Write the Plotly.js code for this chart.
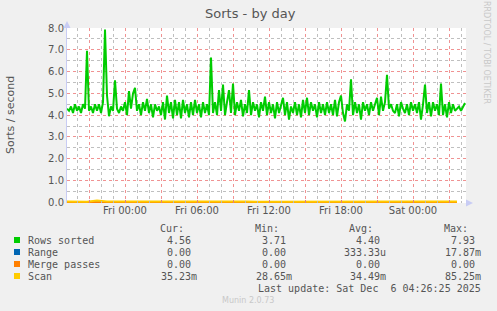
<!DOCTYPE html>
<html>
<head>
<meta charset="utf-8">
<script src="https://cdn.plot.ly/plotly-3.0.1.min.js"></script>
<style>html,body{margin:0;padding:0;background:#f0f0f0;}#chart{width:497px;height:311px;}</style>
</head>
<body>
<div id="chart"></div>
<script>
// ---- data ----
const startTime = Date.UTC(2025, 11, 4, 19, 10); // Thu 19:10
const stepMs = 10 * 60 * 1000;
const rowsSorted = [
4.3,4.2,4.4,4.1,4.5,4.2,4.4,4.1,4.5,4.3,
6.95,4.2,4.4,4.1,4.5,4.2,4.5,4.1,4.6,7.93,
4.9,3.95,4.4,4.2,5.6,4.3,4.1,4.4,4.2,4.6,
4.0,5.1,4.3,5.0,5.25,4.2,4.5,4.0,4.6,4.2,
4.75,4.1,4.5,3.9,4.5,4.2,4.4,4.0,4.6,3.8,
4.9,4.1,4.6,3.85,4.7,4.0,4.6,3.85,4.7,4.1,
4.5,3.9,4.6,4.0,4.7,4.1,4.5,3.9,4.6,4.1,
4.5,4.0,6.65,4.1,4.6,4.0,5.15,4.2,5.4,4.0,
4.6,5.15,4.1,5.45,4.0,4.6,4.2,4.7,3.95,4.5,
4.1,5.15,4.0,4.6,4.2,4.5,3.9,4.6,4.2,4.85,
4.0,4.6,4.1,4.5,3.85,4.6,4.1,4.5,4.8,4.0,
4.6,3.8,4.4,4.1,4.6,4.0,4.5,3.9,4.7,4.1,
4.8,4.0,4.6,4.2,4.5,3.9,4.6,4.1,4.5,4.0,
4.6,4.1,4.5,4.0,4.7,3.95,4.6,4.9,4.1,3.71,
4.5,4.2,5.65,4.0,4.6,4.1,4.5,3.8,4.6,4.2,
4.5,4.0,4.6,4.2,4.5,4.8,4.0,4.85,4.2,4.6,
5.85,4.3,4.5,4.2,4.1,4.5,3.95,4.6,4.3,4.1,
4.5,4.0,4.6,4.2,4.5,4.1,4.6,3.8,4.5,5.4,
4.1,4.6,3.95,4.6,4.2,4.5,4.0,5.45,4.0,4.5,
3.9,4.6,4.1,4.5,4.2,4.3,4.4,4.2,4.4,4.56
];
const coarseStepMs = 50 * 60 * 1000;
const scan = [
0.034,0.035,0.033,0.085,0.036,0.034,0.035,0.033,0.034,0.036,
0.035,0.034,0.060,0.035,0.033,0.034,0.036,0.035,0.034,0.033,
0.035,0.034,0.036,0.034,0.035,0.033,0.034,0.035,0.036,0.034,
0.033,0.035,0.034,0.036,0.035,0.034,0.033,0.035,0.034,0.035
];
const rangeVals = [
0,0,0,0,0,0,0,0,0,0,0,0,0,0,0.0179,0,0,0,0,0,
0,0,0,0,0,0,0,0,0,0,0,0,0,0,0,0,0,0,0,0
];
const mergePasses = [
0,0,0,0,0,0,0,0,0,0,0,0,0,0,0,0,0,0,0,0,
0,0,0,0,0,0,0,0,0,0,0,0,0,0,0,0,0,0,0,0
];
const seriesNames = ["Rows sorted", "Range", "Merge passes", "Scan"];
const seriesColors = ["#00cc00", "#0066b3", "#ff8000", "#ffcc00"];
const curVals = ["  4.56 ", "  0.00 ", "  0.00 ", " 35.23m"];
const minVals = ["  3.71 ", "  0.00 ", "  0.00 ", " 28.65m"];
const avgVals = ["  4.40 ", "333.33u", "  0.00 ", " 34.49m"];
const maxVals = ["  7.93 ", " 17.87m", "  0.00 ", " 85.25m"];
const xTickFormat = "%a %H:%M";
const yTickFormat = ".1f";

// ---- helpers ----
function fmt(ms){ return new Date(ms).toISOString().replace('T',' ').slice(0,19); }
function times(n, step){ const a=[]; for(let i=0;i<n;i++) a.push(fmt(startTime+i*step)); return a; }
const L=67, R=466, T=28, B=203;
const px = x => (x-L)/(R-L);
const py = y => (B-y)/(B-T);

const traces = [
 {x: times(rowsSorted.length, stepMs), y: rowsSorted, name: seriesNames[0], type:'scatter', mode:'lines', line:{color:seriesColors[0], width:2}},
 {x: times(rangeVals.length, coarseStepMs), y: rangeVals, name: seriesNames[1], type:'scatter', mode:'lines', line:{color:seriesColors[1], width:2}},
 {x: times(mergePasses.length, coarseStepMs), y: mergePasses, name: seriesNames[2], type:'scatter', mode:'lines', line:{color:seriesColors[2], width:2}},
 {x: times(scan.length, coarseStepMs), y: scan, name: seriesNames[3], type:'scatter', mode:'lines', line:{color:seriesColors[3], width:2}}
];

const mono = {family:'DejaVu Sans Mono', size:10, color:'#555'};
const ann = [];
const shapes = [];
function txt(x,y,t,anchor,font){ ann.push({xref:'paper',yref:'paper',x:px(x),y:py(y),text:t,showarrow:false,xanchor:anchor,yanchor:'middle',font:font||mono}); }
const sp = s => s.replace(/ /g,'&nbsp;');
// legend header
txt(186,228,'Cur:','right'); txt(281,228,'Min:','right'); txt(375,228,'Avg:','right'); txt(470,228,'Max:','right');
const rowY=[240,252,264,276];
for(let i=0;i<4;i++){
  shapes.push({type:'rect',xref:'paper',yref:'paper',x0:px(14),x1:px(20),y0:py(rowY[i]+3),y1:py(rowY[i]-3),fillcolor:seriesColors[i],line:{width:0}});
  txt(26,rowY[i],sp(seriesNames[i]),'left');
  txt(199,rowY[i],sp(curVals[i]),'right');
  txt(294,rowY[i],sp(minVals[i]),'right');
  txt(388,rowY[i],sp(avgVals[i]),'right');
  txt(483,rowY[i],sp(maxVals[i]),'right');
}
txt(483,288,sp('Last update: Sat Dec  6 04:26:25 2025'),'right');
txt(248,300,'Munin 2.0.73','center',{family:'DejaVu Sans',size:8,color:'#c8c8c8'});
ann.push({xref:'paper',yref:'paper',x:px(487),y:py(52),text:'RRDTOOL / TOBI OETIKER',textangle:90,showarrow:false,xanchor:'center',yanchor:'middle',font:{family:'DejaVu Sans',size:8,color:'#c8c8c8'}});
ann.push({xref:'paper',yref:'paper',x:px(10),y:py(115),text:'Sorts / second',textangle:-90,showarrow:false,xanchor:'center',yanchor:'middle',font:{family:'DejaVu Sans',size:11,color:'#555'}});
ann.push({xref:'paper',yref:'paper',x:px(250),y:py(13),text:'Sorts - by day',showarrow:false,xanchor:'center',yanchor:'middle',font:{family:'DejaVu Sans',size:13,color:'#555'}});
// axis arrows
shapes.push({type:'path',xref:'paper',yref:'paper',path:`M ${px(63.5)} ${py(28)} L ${px(70.5)} ${py(28)} L ${px(67)} ${py(21)} Z`,fillcolor:'#c8ccf4',line:{width:0}});
shapes.push({type:'path',xref:'paper',yref:'paper',path:`M ${px(466)} ${py(199.5)} L ${px(466)} ${py(206.5)} L ${px(473)} ${py(203)} Z`,fillcolor:'#c8ccf4',line:{width:0}});

const majorGrid = 'rgba(235,110,110,0.75)';
const minorGrid = 'rgba(170,170,170,0.75)';
const layout = {
 width:497, height:311,
 margin:{l:L, r:497-R, t:T, b:311-B},
 paper_bgcolor:'#f0f0f0', plot_bgcolor:'#ffffff',
 showlegend:false,
 xaxis:{type:'date', range:['2025-12-04 19:10','2025-12-06 04:25'],
   tickmode:'linear', tick0:'2025-12-05 00:00', dtick:3*3600000, ticklabelstep:2, tickformat:xTickFormat,
   showgrid:true, gridcolor:majorGrid, griddash:'dot', gridwidth:1,
   ticks:'inside', ticklen:3, tickcolor:'#e08080',
   minor:{tickmode:'linear', tick0:'2025-12-05 00:00', dtick:3600000, showgrid:true, gridcolor:minorGrid, griddash:'dot', gridwidth:1, ticks:'inside', ticklen:2, tickcolor:'#bbbbbb'},
   tickfont:{family:'DejaVu Sans', size:10, color:'#555'}, zeroline:false, showline:false, fixedrange:true},
 yaxis:{range:[-0.03,8], tickmode:'linear', tick0:0, dtick:1, tickformat:yTickFormat,
   showgrid:true, gridcolor:majorGrid, griddash:'dot', gridwidth:1,
   minor:{tickmode:'linear', tick0:0, dtick:0.5, showgrid:true, gridcolor:minorGrid, griddash:'dot', gridwidth:1},
   showline:true, linecolor:'#c8ccf4', linewidth:1,
   tickfont:{family:'DejaVu Sans', size:10, color:'#555'}, zeroline:false, ticks:'', fixedrange:true},
 annotations: ann, shapes: shapes,
 font:{family:'DejaVu Sans'}
};
Plotly.newPlot('chart', traces, layout, {staticPlot:true, displayModeBar:false});
</script>
</body>
</html>
